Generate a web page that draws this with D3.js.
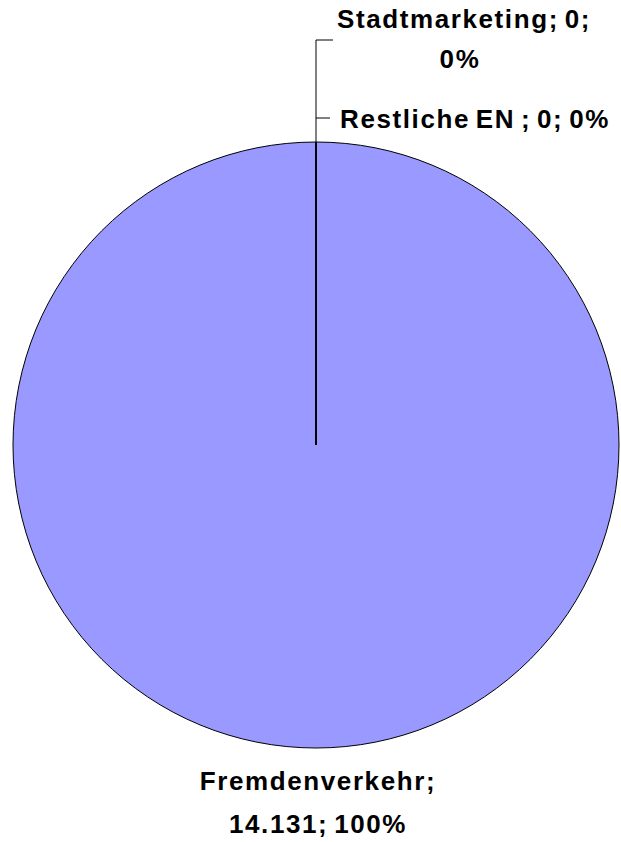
<!DOCTYPE html>
<html>
<head>
<meta charset="utf-8">
<script src="https://cdn.jsdelivr.net/npm/d3@7"></script>
<style>
  body { margin: 0; background: #fff; }
  svg { display: block; }
  text { font-family: Arial, "Liberation Sans", sans-serif; font-weight: bold; font-size: 26px; letter-spacing: 1.6px; word-spacing: -3px; fill: #000; }
</style>
</head>
<body>
<svg id="chart" width="621" height="842"></svg>
<script>
const categories = ['Fremdenverkehr', 'Stadtmarketing', 'Restliche EN '];
const values = [14131, 0, 0];
const valueLabels = ['14.131', '0', '0'];
const percentLabels = ['100%', '0%', '0%'];

const width = 621;
const height = 842;
const cx = 316;
const cy = 445;
const radius = 303;

const svg = d3.select('#chart');
const g = svg.append('g').attr('transform', `translate(${cx},${cy})`);

const data = categories.map((c, i) => ({ name: c, value: values[i], vl: valueLabels[i], pl: percentLabels[i] }));

const pie = d3.pie().sort(null).value(d => d.value);
const arcs = pie(data);
const arc = d3.arc().innerRadius(0).outerRadius(radius);

g.selectAll('path.slice')
  .data(arcs)
  .join('path')
  .attr('class', 'slice')
  .attr('d', arc)
  .attr('fill', '#9999ff')
  .attr('stroke', '#000')
  .attr('stroke-width', 1);

// radial border of the zero slices (drawn at their angle)
const zero = arcs.filter(a => a.value === 0);
const ang = zero[0].startAngle;
const px = r => Math.sin(ang) * r;
const py = r => -Math.cos(ang) * r;
g.append('line')
  .attr('x1', 0).attr('y1', 0)
  .attr('x2', px(radius)).attr('y2', py(radius))
  .attr('stroke', '#000')
  .attr('stroke-width', 2);

// leader lines for zero slices
const leaderY = [40 - cy, 118 - cy];
const tickEnd = [333 - cx, 330 - cx];
g.append('path')
  .attr('d', `M${px(radius)},${py(radius)}V${leaderY[0]}H${tickEnd[0]}`)
  .attr('fill', 'none')
  .attr('stroke', '#000')
  .attr('stroke-width', 1);
g.append('path')
  .attr('d', `M${px(radius)},${leaderY[1]}H${tickEnd[1]}`)
  .attr('fill', 'none')
  .attr('stroke', '#000')
  .attr('stroke-width', 1);

// labels
const d1 = zero[0].data;
svg.append('text')
  .attr('x', 464).attr('y', 28)
  .attr('text-anchor', 'middle')
  .text(`${d1.name}; ${d1.vl};`);
svg.append('text')
  .attr('x', 460).attr('y', 68)
  .attr('text-anchor', 'middle')
  .text(d1.pl);

const d2 = zero[1].data;
svg.append('text')
  .attr('x', 340).attr('y', 128)
  .text(`${d2.name}; ${d2.vl}; ${d2.pl}`);

const d0 = arcs[0].data;
svg.append('text')
  .attr('x', cx + 2).attr('y', 790)
  .attr('text-anchor', 'middle')
  .text(`${d0.name};`);
svg.append('text')
  .attr('x', cx + 2).attr('y', 833)
  .attr('text-anchor', 'middle')
  .text(`${d0.vl}; ${d0.pl}`);
</script>
</body>
</html>
